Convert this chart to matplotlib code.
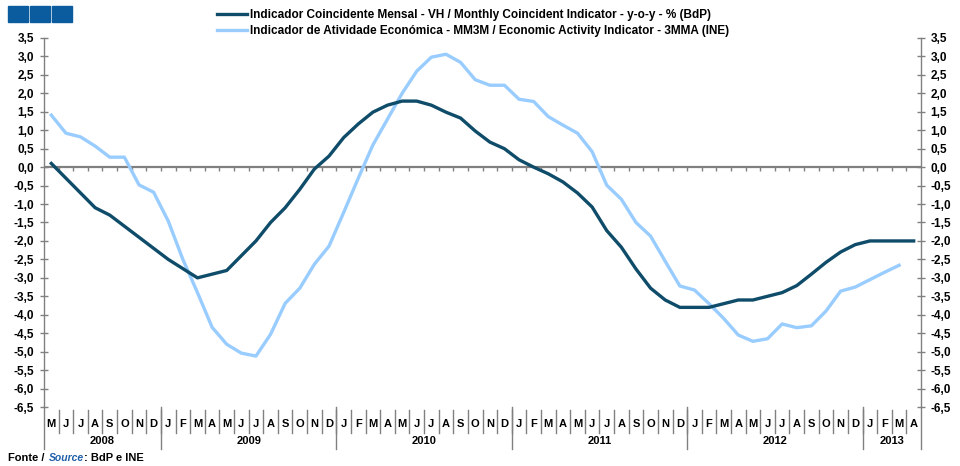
import numpy as np
import matplotlib
matplotlib.use("Agg")
import matplotlib.pyplot as plt
import matplotlib.transforms as mtransforms

plt.rcParams['font.family'] = ['Liberation Sans', 'DejaVu Sans']
plt.rcParams['font.weight'] = 'bold'

# months May 2008 .. Apr 2013
meses = ['M', 'J', 'J', 'A', 'S', 'O', 'N', 'D',
         'J', 'F', 'M', 'A', 'M', 'J', 'J', 'A', 'S', 'O', 'N', 'D',
         'J', 'F', 'M', 'A', 'M', 'J', 'J', 'A', 'S', 'O', 'N', 'D',
         'J', 'F', 'M', 'A', 'M', 'J', 'J', 'A', 'S', 'O', 'N', 'D',
         'J', 'F', 'M', 'A', 'M', 'J', 'J', 'A', 'S', 'O', 'N', 'D',
         'J', 'F', 'M', 'A']
anos = ['2008', '2009', '2010', '2011', '2012', '2013']
meses_por_ano = [8, 12, 12, 12, 12, 4]

# Indicador Coincidente Mensal (BdP)
bdp = [0.1, -0.3, -0.7, -1.1, -1.3, -1.6, -1.9, -2.2,
       -2.5, -2.75, -3.0, -2.9, -2.8, -2.4, -2.0, -1.5, -1.1, -0.6, -0.05, 0.3,
       0.8, 1.17, 1.49, 1.68, 1.79, 1.79, 1.68, 1.49, 1.33, 0.98, 0.68, 0.5,
       0.2, 0.0, -0.18, -0.4, -0.7, -1.08, -1.72, -2.17, -2.76, -3.28, -3.6, -3.8,
       -3.8, -3.8, -3.7, -3.6, -3.6, -3.5, -3.4, -3.21, -2.9, -2.58, -2.3, -2.1,
       -2.0, -2.0, -2.0, -2.0]

# Indicador de Atividade Economica (INE)
ine = [1.41, 0.92, 0.82, 0.57, 0.27, 0.27, -0.48, -0.68,
       -1.46, -2.5, -3.4, -4.34, -4.8, -5.04, -5.12, -4.53, -3.69, -3.28, -2.63, -2.14,
       -1.23, -0.3, 0.6, 1.3, 2.0, 2.6, 2.98, 3.06, 2.84, 2.37, 2.22, 2.22,
       1.84, 1.78, 1.37, 1.14, 0.92, 0.42, -0.49, -0.87, -1.5, -1.87, -2.55, -3.22,
       -3.33, -3.7, -4.1, -4.55, -4.72, -4.65, -4.25, -4.35, -4.3, -3.9, -3.36, -3.25,
       -3.05, -2.85, -2.66, np.nan]

escuro = '#0f4c69'
claro = '#99ccff'
cinza = '#808080'

fig = plt.figure(figsize=(9.6, 4.66), dpi=100)
ax = fig.add_axes([44 / 960, 1 - 407 / 466, (921 - 44) / 960, (407 - 38) / 466])

n = len(meses)
x = np.arange(n) + 0.5
ax.axhline(0, color=cinza, lw=1.6, zorder=1)
ax.vlines(np.arange(1, n), -0.11, 0, color=cinza, lw=1, zorder=1)
l1, = ax.plot(x, bdp, color=escuro, lw=2.4, zorder=3)
l2, = ax.plot(x, ine, color=claro, lw=2.4, zorder=2)

ax.set_xlim(0, n)
ax.set_ylim(-6.5, 3.5)
yt = np.arange(-6.5, 3.51, 0.5)
ax.set_yticks(yt)
ax.set_yticklabels([f'{v:.1f}'.replace('.', ',') for v in yt])
ax.tick_params(axis='y', which='both', direction='inout', length=6, width=1,
               color=cinza, labelsize=8.5, left=True, right=True,
               labelleft=True, labelright=True, pad=4)
ax.set_xticks([])
for s in ['top', 'bottom']:
    ax.spines[s].set_visible(False)
for s in ['left', 'right']:
    ax.spines[s].set_color(cinza)
    ax.spines[s].set_linewidth(1)

# month / year labels below
tr = mtransforms.blended_transform_factory(ax.transData, ax.transAxes)
px = 1 / (407 - 38)
for i, m in enumerate(meses):
    ax.text(i + 0.5, -17 * px, m, transform=tr, ha='center', va='center',
            fontsize=8, fontweight='bold')
    if i > 0:
        ax.plot([i, i], [-3 * px, -26 * px], transform=tr, color=cinza,
                lw=1, clip_on=False)
pos = 0
for a, k in zip(anos, meses_por_ano):
    ax.text(pos + k / 2, -34 * px, a, transform=tr, ha='center', va='center',
            fontsize=8, fontweight='bold')
    pos += k
    ax.plot([pos, pos], [0, -42 * px], transform=tr, color=cinza, lw=1,
            clip_on=False)
ax.plot([0, 0], [0, -42 * px], transform=tr, color=cinza, lw=1, clip_on=False)

leg = fig.legend([l1, l2],
                 ['Indicador Coincidente Mensal - VH / Monthly Coincident Indicator - y-o-y - % (BdP)',
                  'Indicador de Atividade Económica - MM3M / Economic Activity Indicator - 3MMA (INE)'],
                 loc='upper left', bbox_to_anchor=(212 / 960, 1 - 4 / 466),
                 frameon=False, fontsize=8.5, handlelength=2.6,
                 handletextpad=0.2, labelspacing=0.35, borderaxespad=0)

# header squares
for x0 in [8, 30, 52]:
    fig.patches.append(plt.Rectangle((x0 / 960, 1 - 22 / 466), 20 / 960, 16 / 466,
                                     transform=fig.transFigure, color='#0b5c9e'))

fig.text(8 / 960, 1 - 458 / 466, 'Fonte / ', fontsize=8, fontweight='bold', va='center')
fig.text(49 / 960, 1 - 458 / 466, 'Source', fontsize=7.5, fontweight='bold',
         style='italic', color='#1f5fa8', va='center')
fig.text(84 / 960, 1 - 458 / 466, ': BdP e INE', fontsize=8, fontweight='bold', va='center')

fig.savefig('out.png', dpi=100)
